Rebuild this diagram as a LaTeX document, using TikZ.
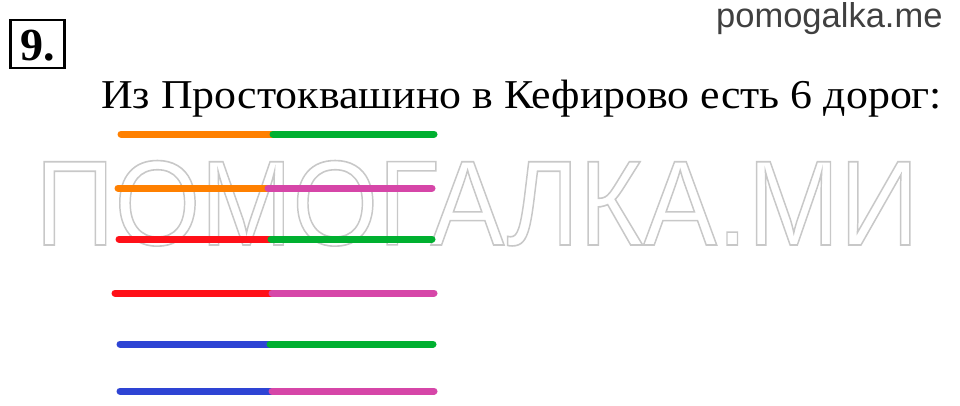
\documentclass[tikz,border=0pt]{standalone}
\usepackage{fontspec}
\setmainfont{Liberation Serif}
\newfontfamily\sansA{Liberation Sans}
\definecolor{rorange}{HTML}{FF8000}
\definecolor{rgreen}{HTML}{00B030}
\definecolor{rmagenta}{HTML}{D646A8}
\definecolor{rred}{HTML}{FF1018}
\definecolor{rblue}{HTML}{2E44D4}
\definecolor{wmgray}{HTML}{C8C8C8}
\definecolor{sitegray}{HTML}{404040}
\begin{document}
\begin{tikzpicture}[x=1pt,y=-1pt,
  seg/.style={line width=7pt, line cap=round},
  txt/.style={inner sep=0pt, anchor=base west}]
\useasboundingbox[fill=white] (0,0) rectangle (960,405);
% watermark
\node[txt, xscale=0.912, text=wmgray] (wm) at (35,245)
  {\fontsize{121}{121}\sansA\special{pdf:literal direct 1 Tr 1.6 w}ПОМОГАЛКА.МИ\special{pdf:literal direct 0 Tr}};
% site name
\node[txt, text=sitegray] (site) at (716,27) {\fontsize{34.5}{34.5}\sansA pomogalka.me};
% number box
\node[draw, line width=2.6pt, minimum width=54pt, minimum height=48pt, inner sep=0pt] (box) at (37.5,44) {};
\node[inner sep=0pt, anchor=base] (num) at (37.5,60) {\fontsize{46}{46}\selectfont\bfseries 9.};
% title
\node[txt, xscale=1.07] (title) at (101,108) {\fontsize{41}{41}\selectfont Из Простоквашино в Кефирово есть 6 дорог:};
% roads
\foreach \i/\yy/\xl/\xm/\xr/\cl/\cr in {
  1/134/121/273/434/rorange/rgreen,
  2/188/118/268/432/rorange/rmagenta,
  3/239/119/271/432/rred/rgreen,
  4/293/115/272/434/rred/rmagenta,
  5/344/120/270/433/rblue/rgreen,
  6/391/120/272/434/rblue/rmagenta}{
  \coordinate (l\i) at (\xl,\yy);
  \coordinate (m\i) at (\xm,\yy);
  \coordinate (r\i) at (\xr,\yy);
  \draw[seg, draw=\cl] (l\i) -- (m\i);
  \draw[seg, draw=\cr] (m\i) -- (r\i);
}
\end{tikzpicture}
\end{document}
